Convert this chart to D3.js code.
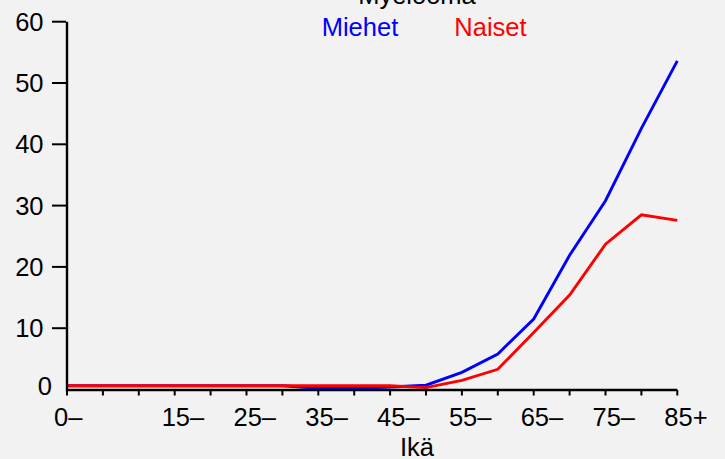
<!DOCTYPE html>
<html>
<head>
<meta charset="utf-8">
<script src="https://cdn.jsdelivr.net/npm/d3@7"></script>
<style>
  html, body { margin: 0; padding: 0; background: #f2f2f2; }
  svg { display: block; }
  text { font-family: "Liberation Sans", Arial, Helvetica, sans-serif; }
</style>
</head>
<body>
<script>
const title = "Myelooma";
const xTitle = "Ikä";
const ageGroups = ["0–","5–","10–","15–","20–","25–","30–","35–","40–","45–","50–","55–","60–","65–","70–","75–","80–","85+"];
const shownLabels = ["0–","15–","25–","35–","45–","55–","65–","75–","85+"];
const seriesNames = ["Miehet", "Naiset"];
const seriesColors = ["#0000ff", "#ff0000"];
const miehet = [0.6,0.6,0.6,0.6,0.6,0.6,0.6,0.2,0.2,0.4,0.7,2.8,5.8,11.5,21.9,30.8,42.6,53.6];
const naiset = [0.6,0.6,0.6,0.6,0.6,0.6,0.6,0.6,0.6,0.6,0.3,1.5,3.3,9.3,15.4,23.7,28.5,27.6];
const yTicks = [10,20,30,40,50,60];

const W = 725, H = 459;
const svg = d3.select("body").append("svg").attr("width", W).attr("height", H);
svg.append("rect").attr("width", W).attr("height", H).attr("fill", "#f2f2f2");

const x = d3.scalePoint().domain(ageGroups).range([67, 677.3]);
const y = d3.scaleLinear().domain([0, 60]).range([389.5, 21.7]);
const fs = 25.5;

// Title (cut off at top, as in the reference)
svg.append("text").attr("x", 417).attr("y", 3.5).attr("text-anchor", "middle")
  .attr("font-size", fs).attr("fill", "#000").text(title);

// Legend
const legendX = [321.7, 454.3];
seriesNames.forEach((n, i) => {
  svg.append("text").attr("x", legendX[i]).attr("y", 36).attr("font-size", fs)
    .attr("fill", seriesColors[i]).text(n);
});

// Lines
const line = d3.line().x((d, i) => x(ageGroups[i])).y(d => y(d));
[miehet, naiset].forEach((s, i) => {
  svg.append("path").datum(s).attr("d", line).attr("fill", "none")
    .attr("stroke", seriesColors[i]).attr("stroke-width", 2.9)
    .attr("stroke-linejoin", "miter");
});

// Axes lines
svg.append("path")
  .attr("d", `M${x(ageGroups[0])},${y(60)}V390H${x(ageGroups[ageGroups.length-1])}`)
  .attr("fill", "none").attr("stroke", "#000").attr("stroke-width", 2.4);

// Y ticks
const yg = svg.append("g");
yTicks.forEach(t => {
  yg.append("line").attr("x1", 52).attr("x2", 66).attr("y1", y(t)).attr("y2", y(t))
    .attr("stroke", "#000").attr("stroke-width", 2);
  yg.append("text").attr("x", 43.5).attr("y", y(t)).attr("dy", "0.35em")
    .attr("text-anchor", "end").attr("font-size", fs).text(t);
});
yg.append("text").attr("x", 52).attr("y", y(0) - 3).attr("dy", "0.35em")
  .attr("text-anchor", "end").attr("font-size", fs).text("0");

// X ticks
const xg = svg.append("g");
ageGroups.forEach(a => {
  xg.append("line").attr("x1", x(a)).attr("x2", x(a)).attr("y1", 390).attr("y2", 395.5)
    .attr("stroke", "#000").attr("stroke-width", 2);
});
shownLabels.forEach(a => {
  xg.append("text").attr("x", x(a) - 13).attr("y", 425.7).attr("font-size", fs).text(a);
});

// X title
svg.append("text").attr("x", 417).attr("y", 455.5).attr("text-anchor", "middle")
  .attr("font-size", fs).text(xTitle);
</script>
</body>
</html>
